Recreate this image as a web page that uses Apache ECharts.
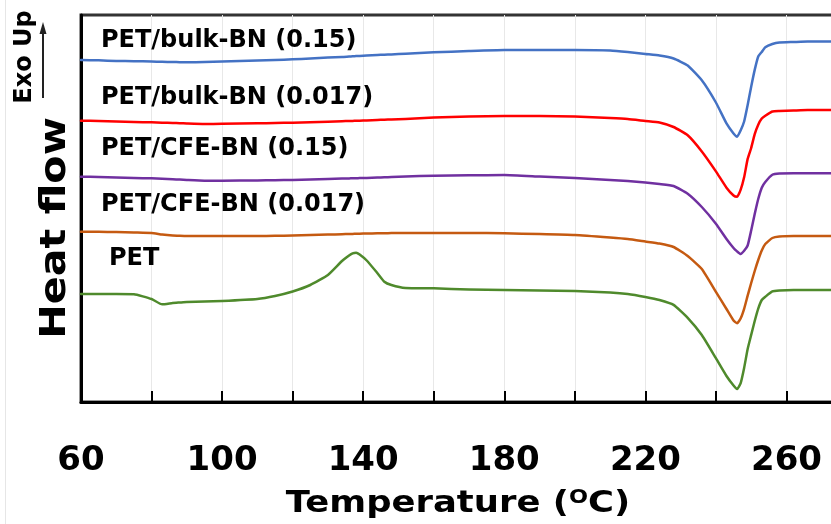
<!DOCTYPE html>
<html>
<head>
<meta charset="utf-8">
<script src="https://cdn.jsdelivr.net/npm/echarts@6/dist/echarts.min.js"></script>
<style>
  html, body { margin: 0; padding: 0; background: #fff; }
  #chart { width: 831px; height: 524px; }
</style>
</head>
<body>
<div id="chart"></div>
<script>
// DSC heating scans, heat flow in arbitrary units (curves offset vertically, exo up)
const temps = [60, 65, 70, 75, 80, 83, 86, 88, 90, 95, 100, 110, 115, 120, 125, 130, 134, 136, 137, 138, 139, 141, 144, 146, 148, 152,
  160, 170, 180, 190, 200, 210, 215, 220, 224, 228, 232, 236, 240, 243, 245, 246, 247, 248, 249, 250, 251, 252, 253, 254, 256, 258,
  262, 266, 270, 280];

const bulkBN015 = [34.20, 34.17, 34.10, 34.08, 34.05, 34.02, 34.00, 33.98, 33.97, 34.00, 34.05, 34.15, 34.20, 34.27, 34.35, 34.45,
  34.50, 34.55, 34.57, 34.59, 34.60, 34.64, 34.70, 34.73, 34.76, 34.82, 34.97, 35.10, 35.20, 35.20, 35.20, 35.15, 35.00, 34.80,
  34.65, 34.35, 33.65, 32.17, 29.95, 27.86, 26.85, 26.53, 27.15, 28.05, 29.70, 31.53, 33.21, 34.55, 35.01, 35.47, 35.80, 35.95,
  36.00, 36.05, 36.05, 36.05];

const bulkBN0017 = [28.13, 28.10, 28.05, 28.00, 27.97, 27.93, 27.90, 27.88, 27.85, 27.80, 27.82, 27.87, 27.90, 27.93, 27.98, 28.03,
  28.08, 28.10, 28.11, 28.12, 28.13, 28.15, 28.20, 28.23, 28.25, 28.30, 28.45, 28.55, 28.60, 28.60, 28.55, 28.40, 28.30, 28.10,
  27.95, 27.50, 26.67, 25.05, 23.06, 21.43, 20.65, 20.53, 21.21, 22.47, 24.31, 25.40, 26.78, 27.73, 28.34, 28.63, 29.05, 29.10,
  29.15, 29.20, 29.20, 29.20];

const cfeBN015 = [22.53, 22.50, 22.45, 22.40, 22.37, 22.32, 22.27, 22.24, 22.20, 22.13, 22.13, 22.16, 22.18, 22.20, 22.25, 22.30,
  22.34, 22.36, 22.37, 22.38, 22.39, 22.41, 22.45, 22.47, 22.50, 22.55, 22.63, 22.67, 22.70, 22.55, 22.40, 22.20, 22.10, 21.95,
  21.80, 21.60, 20.83, 19.50, 17.83, 16.30, 15.40, 15.06, 14.80, 15.12, 15.65, 17.15, 18.80, 20.30, 21.43, 22.00, 22.73, 22.85,
  22.87, 22.87, 22.87, 22.87];

const cfeBN0017 = [17.03, 17.02, 17.00, 16.95, 16.90, 16.75, 16.65, 16.62, 16.60, 16.60, 16.60, 16.60, 16.62, 16.65, 16.70, 16.74,
  16.78, 16.80, 16.81, 16.82, 16.83, 16.85, 16.87, 16.88, 16.89, 16.90, 16.90, 16.90, 16.87, 16.80, 16.70, 16.45, 16.30, 16.05,
  15.85, 15.50, 14.60, 13.30, 11.02, 9.30, 8.15, 7.87, 8.35, 9.32, 10.64, 11.90, 13.10, 14.20, 15.15, 15.80, 16.40, 16.55,
  16.60, 16.60, 16.60, 16.60];

const pet = [10.80, 10.80, 10.80, 10.78, 10.30, 9.77, 9.90, 9.95, 10.00, 10.05, 10.10, 10.30, 10.60, 11.05, 11.70, 12.70,
  14.10, 14.65, 14.87, 14.93, 14.75, 14.15, 12.90, 12.03, 11.70, 11.40, 11.37, 11.25, 11.20, 11.15, 11.10, 10.95, 10.80, 10.50,
  10.20, 9.71, 8.42, 6.70, 4.38, 2.60, 1.65, 1.30, 1.86, 3.40, 5.30, 6.71, 8.10, 9.34, 10.20, 10.52, 11.06, 11.15,
  11.20, 11.20, 11.20, 11.20];

const seriesNames = ['PET/bulk-BN (0.15)', 'PET/bulk-BN (0.017)', 'PET/CFE-BN (0.15)', 'PET/CFE-BN (0.017)', 'PET'];
const seriesValues = [bulkBN015, bulkBN0017, cfeBN015, cfeBN0017, pet];
const seriesColors = ['#4472c4', '#ff0000', '#7030a0', '#c55a11', '#4f8a2c'];
const tickLabels = [60, 100, 140, 180, 220, 260];

const FONT = "'DejaVu Sans', 'Liberation Sans', sans-serif";

const chart = echarts.init(document.getElementById('chart'), null, { renderer: 'canvas' });

// curve captions, placed beside each baseline
const captionPos = [[101, 41], [101, 98], [101, 149], [101, 205], [109, 259]];
const captions = seriesNames.map((name, i) => ({
  type: 'text',
  x: captionPos[i][0],
  y: captionPos[i][1],
  z: 100,
  style: {
    text: name,
    font: 'bold 24px ' + FONT,
    fill: '#000',
    verticalAlign: 'middle'
  }
}));

const option = {
  backgroundColor: '#fff',
  animation: false,
  grid: {
    left: 81,
    top: 15,
    right: -26,
    bottom: 122,
    outerBoundsMode: 'none',
    containLabel: false,
    show: true,
    borderColor: '#333',
    borderWidth: 3
  },
  xAxis: {
    type: 'value',
    min: 60,
    max: 280,
    interval: 20,
    axisLine: { show: true, onZero: false, lineStyle: { color: '#000', width: 3 } },
    axisTick: { show: true, inside: true, length: 11, lineStyle: { color: '#000', width: 2 } },
    splitLine: { show: true, lineStyle: { color: '#e8e8e8', width: 1 } },
    axisLabel: {
      margin: 42,
      color: '#000',
      fontFamily: FONT,
      fontWeight: 'bold',
      fontSize: 34,
      formatter: v => (tickLabels.indexOf(v) >= 0 ? String(v) : '')
    }
  },
  yAxis: {
    type: 'value',
    min: 0,
    max: 38.7,
    axisLine: { show: true, lineStyle: { color: '#000', width: 3 } },
    axisTick: { show: false },
    axisLabel: { show: false },
    splitLine: { show: false }
  },
  series: seriesValues.map((vals, i) => ({
    name: seriesNames[i],
    type: 'line',
    showSymbol: false,
    smooth: 0.15,
    clip: true,
    lineStyle: { color: seriesColors[i], width: 2.5, join: 'round', cap: 'round' },
    data: temps.map((t, k) => [t, vals[k]])
  })),
  graphic: [
    // faint outer frame line on the left
    { type: 'line', shape: { x1: 5.5, y1: 0, x2: 5.5, y2: 524 }, style: { stroke: '#e6e6e6', lineWidth: 1 } },
    // y-axis title
    {
      type: 'text', x: 56, y: 228, rotation: Math.PI / 2, scaleX: 1.18,
      style: { text: 'Heat flow', font: 'bold 35px ' + FONT, fill: '#000', align: 'center', verticalAlign: 'middle' }
    },
    // exotherm direction marker
    {
      type: 'text', x: 25, y: 57, rotation: Math.PI / 2,
      style: { text: 'Exo Up', font: 'bold 24px ' + FONT, fill: '#000', align: 'center', verticalAlign: 'middle' }
    },
    { type: 'line', shape: { x1: 43, y1: 98, x2: 43, y2: 32 }, style: { stroke: '#222', lineWidth: 2 } },
    { type: 'polygon', shape: { points: [[43, 22], [39.5, 34], [46.5, 34]] }, style: { fill: '#222' } },
    // x-axis title
    {
      type: 'text', x: 458, y: 504, scaleX: 1.18,
      style: {
        text: 'Temperature ({sup|O}C)',
        font: 'bold 30px ' + FONT,
        fill: '#000',
        align: 'center',
        verticalAlign: 'middle',
        rich: {
          sup: { font: 'bold 19px ' + FONT, fill: '#000', verticalAlign: 'top', padding: [0, 0, 12, 0] }
        }
      }
    }
  ].concat(captions)
};

chart.setOption(option);
</script>
</body>
</html>
